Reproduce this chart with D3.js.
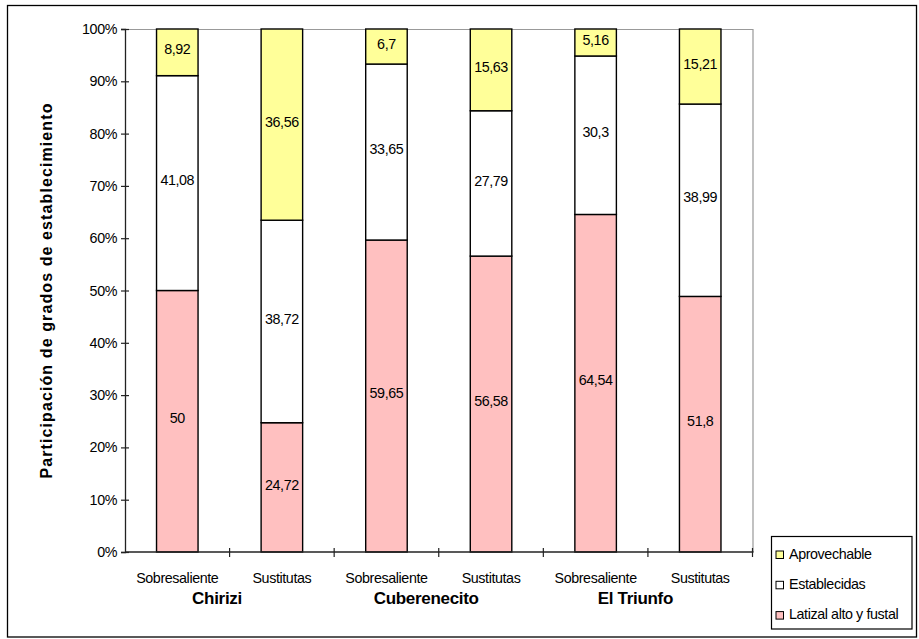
<!DOCTYPE html>
<html>
<head>
<meta charset="utf-8">
<script src="https://cdn.jsdelivr.net/npm/d3@7"></script>
<style>
  html, body { margin: 0; padding: 0; background: #fff; }
  svg { display: block; font-family: "Liberation Sans", Arial, sans-serif; }
</style>
</head>
<body>
<svg id="chart" width="919" height="639"></svg>
<script>
// Stand groups and the two tree types inside each
const groups = ["Chirizi", "Cuberenecito", "El Triunfo"];
const types = ["Sobresaliente", "Sustitutas"];

// Share (%) of each establishment grade per group/type, in category order
const latizal      = [50, 24.72, 59.65, 56.58, 64.54, 51.8];
const establecidas = [41.08, 38.72, 33.65, 27.79, 30.3, 38.99];
const aprovechable = [8.92, 36.56, 6.7, 15.63, 5.16, 15.21];

const seriesNames = ["Latizal alto y fustal", "Establecidas", "Aprovechable"];
const seriesColors = ["#FFC0C0", "#FFFFFF", "#FFFF99"];
const yTicks = [0, 0.1, 0.2, 0.3, 0.4, 0.5, 0.6, 0.7, 0.8, 0.9, 1];

// Build category rows from the arrays above
const categories = [];
groups.forEach((g, gi) => types.forEach((t, ti) => {
  const i = gi * types.length + ti;
  categories.push({ key: g + "|" + t, group: g, type: t,
    "Latizal alto y fustal": latizal[i], "Establecidas": establecidas[i], "Aprovechable": aprovechable[i] });
}));

const svg = d3.select("#chart");
const font = "\"Liberation Sans\", Arial, sans-serif";

// Outer chart frame
svg.append("rect").attr("x", 7.5).attr("y", 5.5).attr("width", 909).attr("height", 631.5)
  .attr("fill", "none").attr("stroke", "#000").attr("stroke-width", 1.3);

const plot = { left: 125, right: 752.5, top: 29, bottom: 552 };

const x = d3.scaleBand().domain(categories.map(d => d.key))
  .range([plot.left, plot.right]).padding(0);
const y = d3.scaleLinear().domain([0, 1]).range([plot.bottom, plot.top]);

// Plot area border (top and right, grey)
svg.append("path")
  .attr("d", `M${plot.left},${plot.top + 0.5}H${plot.right + 0.5}V${plot.bottom}`)
  .attr("fill", "none").attr("stroke", "#999").attr("stroke-width", 1.2);

// 100% stacked bars
const stack = d3.stack().keys(seriesNames).offset(d3.stackOffsetExpand);
const stacked = stack(categories);
const barW = x.bandwidth() * 0.397;

const layers = svg.append("g").selectAll("g").data(stacked).join("g")
  .attr("fill", (d, i) => seriesColors[i]);

layers.selectAll("rect").data(d => d).join("rect")
  .attr("x", d => x(d.data.key) + (x.bandwidth() - barW) / 2)
  .attr("y", d => y(d[1]))
  .attr("width", barW)
  .attr("height", d => y(d[0]) - y(d[1]))
  .attr("stroke", "#000").attr("stroke-width", 1.4);

// Value labels centred in each segment (raw values, decimal comma)
const fmt = v => String(v).replace(".", ",");
stacked.forEach(layer => {
  svg.append("g").selectAll("text").data(layer).join("text")
    .attr("x", d => x(d.data.key) + x.bandwidth() / 2)
    .attr("y", d => (y(d[0]) + y(d[1])) / 2 - 3)
    .attr("dy", "0.36em")
    .attr("text-anchor", "middle")
    .attr("font-size", 14.3)
    .attr("letter-spacing", -0.4)
    .attr("fill", "#000")
    .text(d => fmt(d.data[layer.key]));
});

// Y axis with crossing ticks
const yAxis = svg.append("g").attr("transform", `translate(${plot.left},0)`)
  .call(d3.axisLeft(y).tickValues(yTicks).tickFormat(d3.format(".0%"))
    .tickSize(4).tickPadding(4));
yAxis.select(".domain").attr("stroke", "#222").attr("stroke-width", 1.3);
yAxis.selectAll(".tick line").attr("x1", 4).attr("stroke", "#222").attr("stroke-width", 1.2);
yAxis.selectAll(".tick text").attr("font-size", 14.3).attr("font-family", font)
  .attr("letter-spacing", -0.4).attr("fill", "#000");

// X axis line with ticks at category boundaries
const xg = svg.append("g");
xg.append("line").attr("x1", plot.left).attr("x2", plot.right + 1)
  .attr("y1", plot.bottom).attr("y2", plot.bottom)
  .attr("stroke", "#222").attr("stroke-width", 1.3);
xg.selectAll("line.tk").data(categories).join("line").attr("class", "tk")
  .attr("x1", d => x(d.key) + x.bandwidth()).attr("x2", d => x(d.key) + x.bandwidth())
  .attr("y1", plot.bottom - 4).attr("y2", plot.bottom + 5)
  .attr("stroke", "#222").attr("stroke-width", 1.2);

// Category labels
xg.selectAll("text.cat").data(categories).join("text").attr("class", "cat")
  .attr("x", d => x(d.key) + x.bandwidth() / 2)
  .attr("y", 583)
  .attr("text-anchor", "middle").attr("font-size", 14.3).attr("letter-spacing", -0.4)
  .text(d => d.type);

// Group labels
xg.selectAll("text.grp").data(groups).join("text").attr("class", "grp")
  .attr("x", g => x(g + "|" + types[0]) + x.bandwidth() * 0.88)
  .attr("y", 604)
  .attr("text-anchor", "middle").attr("font-size", 17).attr("font-weight", "bold")
  .attr("letter-spacing", -0.3)
  .text(g => g);

// Y axis title
svg.append("text")
  .attr("transform", `translate(52,${(plot.top + plot.bottom) / 2}) rotate(-90)`)
  .attr("text-anchor", "middle").attr("font-size", 16).attr("font-weight", "bold")
  .attr("letter-spacing", 1.1)
  .text("Participación de grados de establecimiento");

// Legend (top to bottom: Aprovechable, Establecidas, Latizal)
const lg = svg.append("g");
lg.append("rect").attr("x", 771.5).attr("y", 536.5).attr("width", 140.5).attr("height", 92.5)
  .attr("fill", "#fff").attr("stroke", "#000").attr("stroke-width", 1.2);
const legendItems = seriesNames.map((n, i) => ({ name: n, color: seriesColors[i] })).reverse();
const li = lg.selectAll("g").data(legendItems).join("g")
  .attr("transform", (d, i) => `translate(776,${551 + i * 30.3})`);
li.append("rect").attr("x", 0).attr("y", 0).attr("width", 7.5).attr("height", 7.5)
  .attr("fill", d => d.color).attr("stroke", "#000").attr("stroke-width", 1);
li.append("text").attr("x", 13).attr("y", 7.5).attr("font-size", 14.3)
  .attr("letter-spacing", -0.4).text(d => d.name);
</script>
</body>
</html>
